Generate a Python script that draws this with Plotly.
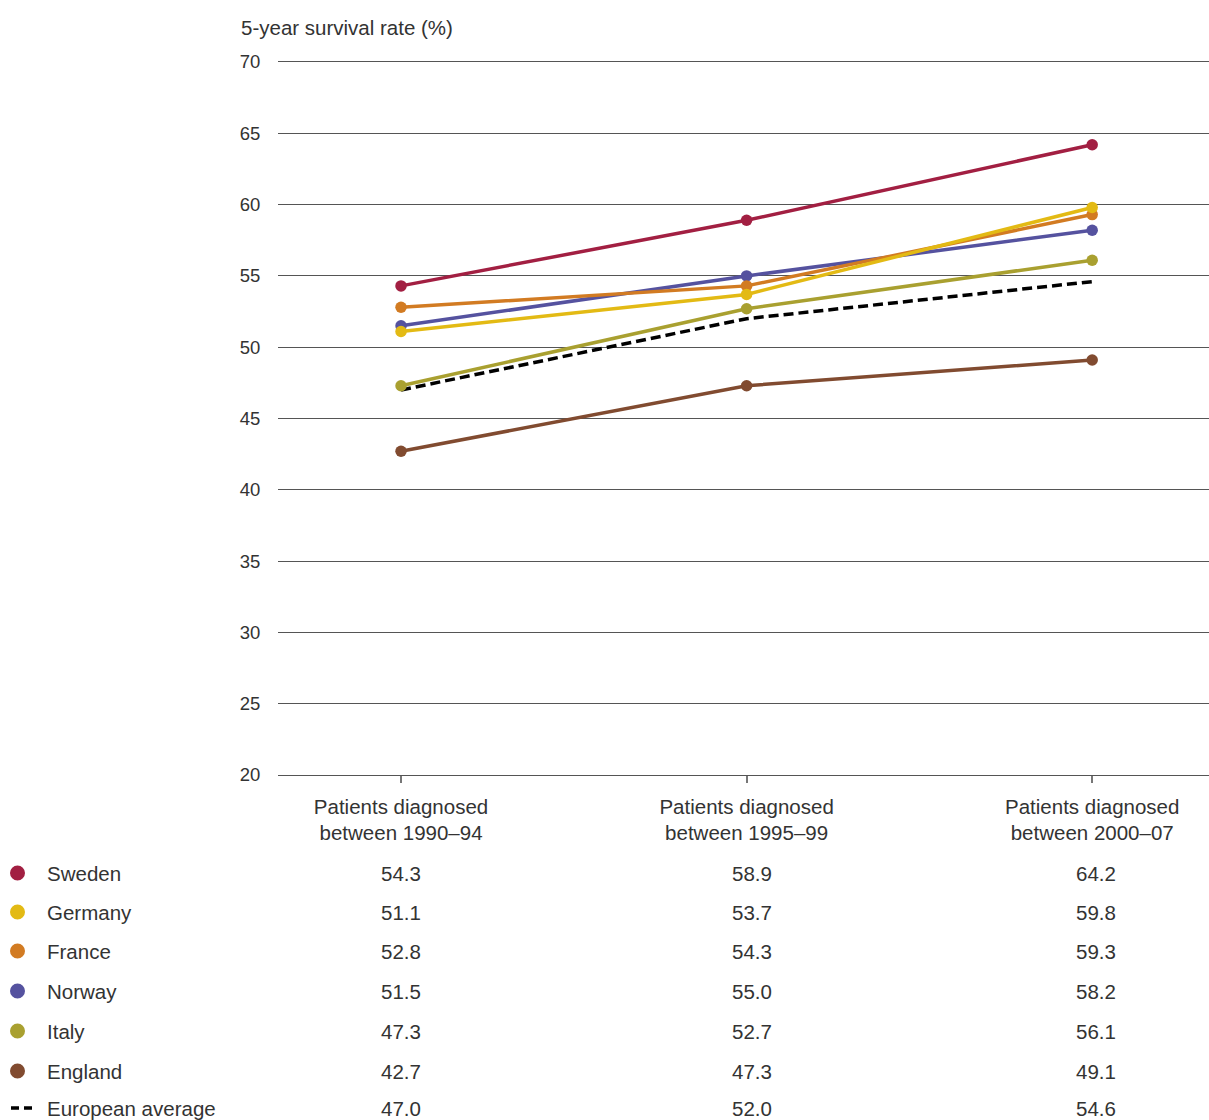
import plotly.graph_objects as go

categories = ["Patients diagnosed<br>between 1990–94",
              "Patients diagnosed<br>between 1995–99",
              "Patients diagnosed<br>between 2000–07"]
countries = ["Sweden", "Germany", "France", "Norway", "Italy", "England", "European average"]
sweden = [54.3, 58.9, 64.2]
germany = [51.1, 53.7, 59.8]
france = [52.8, 54.3, 59.3]
norway = [51.5, 55.0, 58.2]
italy = [47.3, 52.7, 56.1]
england = [42.7, 47.3, 49.1]
european_avg = [47.0, 52.0, 54.6]
y_ticks = [20, 25, 30, 35, 40, 45, 50, 55, 60, 65, 70]

colors = {
    "Sweden": "#A21F42",
    "Germany": "#E3BA14",
    "France": "#D27B22",
    "Norway": "#55529F",
    "Italy": "#A9A030",
    "England": "#814B30",
    "European average": "#000000",
}
values = {
    "Sweden": sweden, "Germany": germany, "France": france, "Norway": norway,
    "Italy": italy, "England": england, "European average": european_avg,
}

W, H = 1209, 1120
L, T, R = 278, 62, 0
B = H - 775
PW, PH = W - L - R, H - T - B
FONT = "Liberation Sans, Arial, sans-serif"
TXT = "#333333"

def px_x(p):
    return (p - L) / PW

def px_y(p):
    return (H - B - p) / PH

fig = go.Figure()
xs = [0, 1, 2]
draw_order = ["European average", "England", "Italy", "Norway", "France", "Germany", "Sweden"]
for name in draw_order:
    if name == "European average":
        fig.add_trace(go.Scatter(x=xs, y=values[name], mode="lines", name=name,
                                 line=dict(color="#000000", width=3.5, dash="10px,5px"),
                                 showlegend=False, hoverinfo="skip"))
    else:
        fig.add_trace(go.Scatter(x=xs, y=values[name], mode="lines+markers", name=name,
                                 line=dict(color=colors[name], width=3.5),
                                 marker=dict(color=colors[name], size=11.5),
                                 showlegend=False))

# table / legend below the chart
row_px = [873, 912, 951, 991, 1031, 1071, 1108]
col_shift = [0, 5, 4]
shapes = []
annotations = []
for i, name in enumerate(countries):
    yp = px_y(row_px[i])
    if name == "European average":
        shapes.append(dict(type="line", xref="paper", yref="paper",
                           x0=px_x(11), x1=px_x(34), y0=yp, y1=yp,
                           line=dict(color="#000000", width=3.4, dash="8px,5px")))
    else:
        shapes.append(dict(type="circle", xref="paper", yref="paper",
                           x0=px_x(10), x1=px_x(25), y0=px_y(row_px[i] - 7.5), y1=px_y(row_px[i] + 7.5),
                           fillcolor=colors[name], line=dict(width=0)))
    annotations.append(dict(x=px_x(45), y=yp, xref="paper", yref="paper", text=name,
                            showarrow=False, xanchor="left", yanchor="middle",
                            font=dict(size=20.5, color=TXT, family=FONT)))
    for j in range(3):
        annotations.append(dict(x=xs[j], y=yp, xref="x", yref="paper",
                                text=f"{values[name][j]:.1f}", showarrow=False,
                                xanchor="center", yanchor="middle", xshift=col_shift[j],
                                font=dict(size=20.5, color=TXT, family=FONT)))

annotations.append(dict(x=px_x(239), y=px_y(28), xref="paper", yref="paper",
                        text="5-year survival rate (%)", showarrow=False,
                        xanchor="left", yanchor="middle",
                        font=dict(size=20.5, color=TXT, family=FONT)))

fig.update_layout(
    width=W, height=H,
    margin=dict(l=L, r=R, t=T, b=B),
    paper_bgcolor="white", plot_bgcolor="white",
    showlegend=False,
    font=dict(family=FONT, color=TXT),
    shapes=shapes,
    annotations=annotations,
    xaxis=dict(range=[-0.356, 2.338], tickvals=xs, ticktext=categories,
               showgrid=False, zeroline=False,
               showline=True, mirror=True, linecolor="#555555", linewidth=1,
               ticks="outside", ticklen=7, tickcolor="#777777", tickwidth=1.5,
               ticklabelstandoff=6,
               tickfont=dict(size=20.5, color=TXT, family=FONT)),
    yaxis=dict(range=[20, 70], tickvals=y_ticks, showgrid=True,
               gridcolor="#555555", gridwidth=1, zeroline=False,
               showline=False, ticks="outside", ticklen=13, tickcolor="rgba(0,0,0,0)",
               tickfont=dict(size=18.5, color=TXT, family=FONT)),
)

fig.write_html("out.html",
               config={"displayModeBar": False},
               post_script="document.body.style.margin='0';document.body.style.overflow='hidden';")
